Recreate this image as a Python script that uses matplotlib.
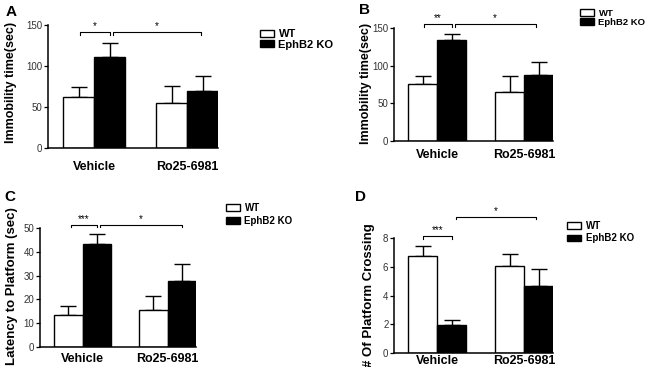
import matplotlib.pyplot as plt

plt.rcParams['font.family'] = ['Liberation Sans', 'DejaVu Sans']

# dados
grupos = ['Vehicle', 'Ro25-6981']
series = ['WT', 'EphB2 KO']

# painel A - imobilidade (sec)
a_wt = [62, 55]
a_wt_err = [12, 21]
a_ko = [111, 70]
a_ko_err = [17, 18]

# painel B - imobilidade (sec)
b_wt = [76, 65]
b_wt_err = [10, 21]
b_ko = [134, 87]
b_ko_err = [8, 18]

# painel C - latencia ate a plataforma (sec)
c_wt = [13.4, 15.6]
c_wt_err = [3.9, 5.8]
c_ko = [43.4, 27.7]
c_ko_err = [4.1, 7.1]

# painel D - numero de cruzamentos
d_wt = [6.75, 6.06]
d_wt_err = [0.72, 0.81]
d_ko = [1.93, 4.64]
d_ko_err = [0.34, 1.23]

W, H = 648, 367
fig = plt.figure(figsize=(W / 100, H / 100), dpi=100)


def eixo(l, t, r, b):
    return fig.add_axes([l / W, 1 - b / H, (r - l) / W, (b - t) / H])


def fig_xy(x, y):
    return x / W, 1 - y / H


def painel(ax, wt, wt_err, ko, ko_err, ymax, yticks, ylabel, label_xy, label_fs,
           letra, letra_xy, leg_xy, leg_fs, leg_sp, brackets, xpad):
    pos_wt = [0, 3]
    pos_ko = [1, 4]
    ax.bar(pos_wt, wt, width=1, color='white', edgecolor='black', linewidth=1.0, label=series[0], zorder=2)
    ax.bar(pos_ko, ko, width=1, color='black', edgecolor='black', linewidth=1.0, label=series[1], zorder=2)
    ax.errorbar(pos_wt, wt, yerr=[[0, 0], wt_err], fmt='none', ecolor='black', elinewidth=1.0, capsize=5.5, capthick=1.0, zorder=1)
    ax.errorbar(pos_ko, ko, yerr=[[0, 0], ko_err], fmt='none', ecolor='black', elinewidth=1.0, capsize=5.5, capthick=1.0, zorder=1)

    ax.set_xlim(-1, 4.5)
    ax.set_ylim(0, ymax)
    ax.set_yticks(yticks)
    ax.tick_params(axis='y', labelsize=7, labelcolor='#333333', length=3, width=0.9, pad=1)
    ax.set_xticks([0.5, 3.5])
    ax.set_xticklabels(grupos, fontsize=9, fontweight='bold')
    ax.tick_params(axis='x', length=0, pad=xpad)
    for s in ['top', 'right']:
        ax.spines[s].set_visible(False)
    for s in ['left', 'bottom']:
        ax.spines[s].set_linewidth(1.1)

    # colchetes de significancia
    drop = ymax * 0.022
    for x0, x1, y, txt in brackets:
        ax.plot([x0, x0, x1, x1], [y - drop, y, y, y - drop], color='black', lw=0.8, clip_on=False)
        ax.text((x0 + x1) / 2, y + drop * 0.4, txt, ha='center', va='bottom', fontsize=7, clip_on=False)

    fx, fy = fig_xy(*label_xy)
    fig.text(fx, fy, ylabel, rotation=90, ha='center', va='center', fontsize=label_fs, fontweight='bold')
    lx, ly = fig_xy(*letra_xy)
    fig.text(lx, ly, letra, ha='center', va='center', fontsize=11, fontweight='bold')

    gx, gy = fig_xy(*leg_xy)
    fpx = leg_fs * 100 / 72
    ax.legend(loc='upper left', bbox_to_anchor=(gx, gy), bbox_transform=fig.transFigure,
              frameon=False, borderpad=0, borderaxespad=0,
              handlelength=14 / fpx, handleheight=6.5 / fpx, handletextpad=4.5 / fpx, labelspacing=leg_sp,
              prop={'weight': 'bold', 'size': leg_fs})


axA = eixo(48, 25, 218, 148)
painel(axA, a_wt, a_wt_err, a_ko, a_ko_err, 150, [0, 50, 100, 150], 'Immobility time(sec)',
       (11, 82), 9, 'A', (11, 12), (260, 29), 8, 0.05,
       [(0.05, 1.0, 141, '*'), (1.1, 3.95, 141, '*')], 9.5)

axB = eixo(394, 28, 553, 141)
painel(axB, b_wt, b_wt_err, b_ko, b_ko_err, 150, [0, 50, 100, 150], 'Immobility time(sec)',
       (366, 83), 9, 'B', (364, 10), (580, 9), 6.8, 0.0,
       [(0.05, 1.0, 155, '**'), (1.1, 3.9, 155, '*')], 6)

axC = eixo(40, 228, 196, 347)
painel(axC, c_wt, c_wt_err, c_ko, c_ko_err, 50, [0, 10, 20, 30, 40, 50], 'Latency to Platform (sec)',
       (12, 286), 9.5, 'C', (10, 197), (226, 203), 7, 0.3,
       [(0.1, 1.0, 51.4, '***'), (1.12, 4.0, 51.4, '*')], 4.5)

axD = eixo(394, 238, 553, 353)
painel(axD, d_wt, d_wt_err, d_ko, d_ko_err, 8, [0, 2, 4, 6, 8], '# Of Platform Crossing',
       (369, 295), 9.5, 'D', (361, 197), (567, 221), 7, 0.25,
       [(0.0, 1.0, 8.14, '***'), (1.13, 3.9, 9.47, '*')], 1.8)

fig.savefig('out.png', dpi=100)
